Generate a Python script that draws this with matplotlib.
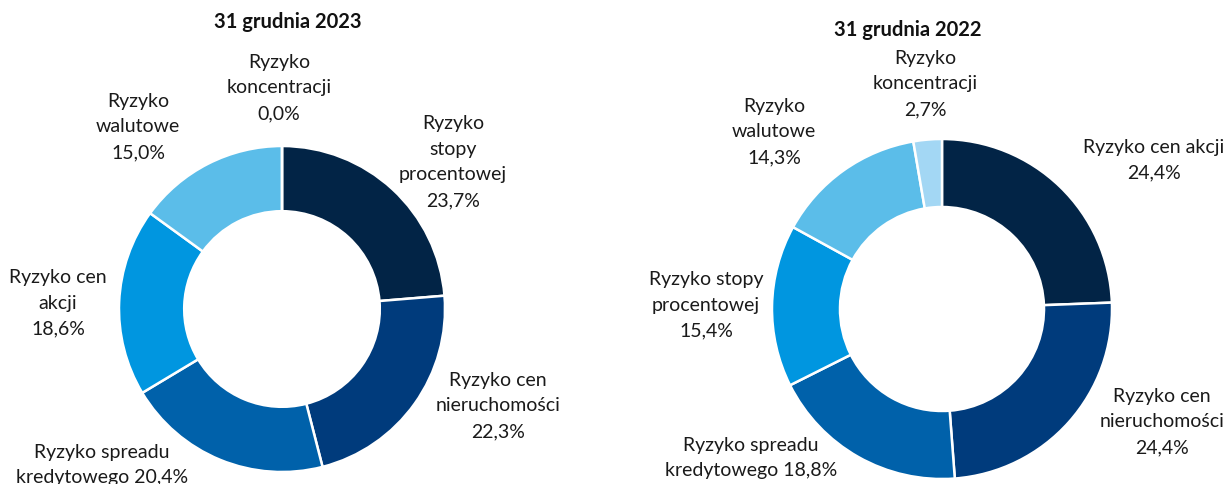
import matplotlib
matplotlib.use('Agg')
import matplotlib.pyplot as plt

# data
titles = ['31 grudnia 2023', '31 grudnia 2022']

names_2023 = ['Ryzyko\nstopy\nprocentowej\n{}', 'Ryzyko cen\nnieruchomości\n{}',
              'Ryzyko spreadu\nkredytowego {}', 'Ryzyko cen\nakcji\n{}',
              'Ryzyko\nwalutowe\n{}', 'Ryzyko\nkoncentracji\n{}']
values_2023 = [23.7, 22.3, 20.4, 18.6, 15.0, 0.0]

names_2022 = ['Ryzyko cen akcji\n{}', 'Ryzyko cen\nnieruchomości\n{}',
              'Ryzyko spreadu\nkredytowego {}', 'Ryzyko stopy\nprocentowej\n{}',
              'Ryzyko\nwalutowe\n{}', 'Ryzyko\nkoncentracji\n{}']
values_2022 = [24.4, 24.4, 18.8, 15.4, 14.3, 2.7]

colors = ['#022446', '#003B7C', '#0061AA', '#0096E0', '#5BBDE9', '#A3D7F4']

W, H = 1227, 485
plt.rcParams['font.family'] = ['Lato', 'DejaVu Sans']
fig = plt.figure(figsize=(W / 100, H / 100), dpi=100)

# layout in pixels: donut centre, radius, label centres, title position
charts = [
    dict(title=titles[0], names=names_2023, values=values_2023,
         cx=282, cy=310, r=163, title_xy=(288, 22),
         label_xy=[(453, 162), (498, 406), (102, 465), (58, 303), (138, 127), (279, 88)]),
    dict(title=titles[1], names=names_2022, values=values_2022,
         cx=942, cy=310, r=170, title_xy=(908, 30),
         label_xy=[(1154, 160), (1162, 422), (751, 458), (706, 305), (774, 132), (925, 84)]),
]

for c in charts:
    r = c['r']
    ax = fig.add_axes([(c['cx'] - r) / W, (H - c['cy'] - r) / H, 2 * r / W, 2 * r / H])
    ax.pie(c['values'], colors=colors, startangle=90, counterclock=False, radius=1,
           wedgeprops=dict(width=0.4, edgecolor='white', linewidth=1.8))
    ax.set_xlim(-1, 1)
    ax.set_ylim(-1, 1)
    ax.set_axis_off()

    for name, v, (lx, ly) in zip(c['names'], c['values'], c['label_xy']):
        txt = name.format(f"{v:.1f}".replace('.', ',') + '%')
        fig.text(lx / W, 1 - ly / H, txt, ha='center', va='center', fontsize=14,
                 color='#1a1a1a', linespacing=1.62)

    tx, ty = c['title_xy']
    fig.text(tx / W, 1 - ty / H, c['title'], ha='center', va='center',
             fontsize=14.5, fontweight='bold', color='#111111')

fig.savefig('out.png', dpi=100, facecolor='white')
